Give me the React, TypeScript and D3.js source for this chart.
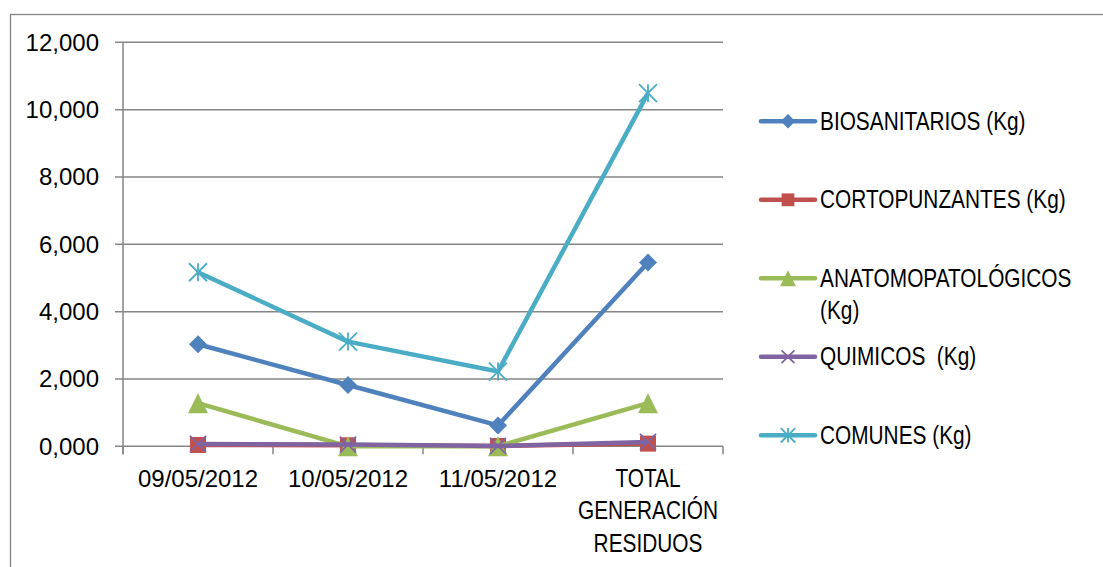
import React from "react";
import * as d3 from "d3";

const categories: string[][] = [["09/05/2012"], ["10/05/2012"], ["11/05/2012"], ["TOTAL", "GENERACIÓN", "RESIDUOS"]];
const yTicks: number[] = [0, 2, 4, 6, 8, 10, 12];
const yTickLabels: string[] = ["0,000", "2,000", "4,000", "6,000", "8,000", "10,000", "12,000"];

const seriesNames: string[][] = [["BIOSANITARIOS (Kg)"], ["CORTOPUNZANTES (Kg)"], ["ANATOMOPATOLÓGICOS", "(Kg)"], ["QUIMICOS  (Kg)"], ["COMUNES (Kg)"]];
const biosanitarios: number[] = [3.03, 1.82, 0.62, 5.46];
const cortopunzantes: number[] = [0.04, 0.03, 0.01, 0.08];
const anatomopatologicos: number[] = [1.28, 0, 0, 1.28];
const quimicos: number[] = [0.07, 0.05, 0.01, 0.13];
const comunes: number[] = [5.17, 3.11, 2.22, 10.49];
const seriesValues: number[][] = [biosanitarios, cortopunzantes, anatomopatologicos, quimicos, comunes];
const seriesColors: string[] = ["#4F81BD", "#C0504D", "#9BBB59", "#8064A2", "#4BACC6"];
const seriesMarkers: string[] = ["diamond", "square", "triangle", "x", "star"];

const W = 1103, H = 567;
const plotLeft = 123, plotRight = 723, plotTop = 42.3, plotBottom = 446.3;
const GRID = "#868686";
const FONT = "'Liberation Sans', Arial, sans-serif";
const NARROW = 0.82;

function NarrowText({ x, y, anchor = "start", size = 25.4, children }: { x: number; y: number; anchor?: string; size?: number; children: string }) {
  return (
    <text
      transform={`translate(${x},${y}) scale(${NARROW},1)`}
      textAnchor={anchor}
      fontFamily={FONT}
      fontSize={size}
      fill="#000"
      style={{ whiteSpace: "pre" }}
    >
      {children}
    </text>
  );
}

function Marker({ type, x, y, color, s = 1 }: { type: string; x: number; y: number; color: string; s?: number }) {
  if (type === "diamond") {
    const r = 9 * s;
    return <path d={`M${x},${y - r}L${x + r},${y}L${x},${y + r}L${x - r},${y}Z`} fill={color} />;
  }
  if (type === "square") {
    const r = 8 * s;
    return <rect x={x - r} y={y - r} width={2 * r} height={2 * r} fill={color} />;
  }
  if (type === "triangle") {
    const r = 10 * s;
    return <path d={`M${x},${y - r}L${x + r},${y + r}L${x - r},${y + r}Z`} fill={color} />;
  }
  if (type === "x") {
    const r = 8 * s;
    return <path d={`M${x - r},${y - r}L${x + r},${y + r}M${x + r},${y - r}L${x - r},${y + r}`} stroke={color} strokeWidth={1.8} fill="none" />;
  }
  const r = 9 * s;
  return (
    <path
      d={`M${x - r},${y - r}L${x + r},${y + r}M${x + r},${y - r}L${x - r},${y + r}M${x},${y - r}L${x},${y + r}`}
      stroke={color}
      strokeWidth={1.8}
      fill="none"
    />
  );
}

export default function App() {
  const x = d3.scaleBand<number>().domain(d3.range(categories.length)).range([plotLeft, plotRight]).padding(0);
  const cx = (i: number) => (x(i) as number) + x.bandwidth() / 2;
  const y = d3.scaleLinear().domain([0, 12]).range([plotBottom, plotTop]);
  const line = d3
    .line<number>()
    .x((_, i) => cx(i))
    .y((v) => y(v));

  const legendX = 761;
  const legendTop = 129.5;
  const legendStep = 78.5;
  const lineH = 32.4;

  return (
    <svg width={W} height={H} style={{ position: "absolute", left: 0, top: 0, background: "#fff" }}>
      <rect x={10.5} y={14.5} width={1100} height={560} fill="#fff" stroke={GRID} strokeWidth={1.3} />
      {/* gridlines & y labels */}
      {yTicks.map((t, i) => (
        <g key={t}>
          <line x1={plotLeft - 8} x2={plotRight} y1={y(t)} y2={y(t)} stroke={GRID} strokeWidth={1.5} />
          <text x={99} y={y(t) + 8.5} textAnchor="end" fontFamily={FONT} fontSize={24} fill="#000">
            {yTickLabels[i]}
          </text>
        </g>
      ))}
      {/* axes */}
      <line x1={plotLeft} x2={plotLeft} y1={plotTop} y2={plotBottom + 8} stroke={GRID} strokeWidth={1.5} />
      {d3.range(categories.length + 1).map((i) => {
        const xx = i < categories.length ? (x(i) as number) : plotRight;
        return <line key={i} x1={xx} x2={xx} y1={plotBottom} y2={plotBottom + 8} stroke={GRID} strokeWidth={1.5} />;
      })}
      {/* category labels */}
      {categories.map((lines, i) =>
        lines.map((l, j) =>
          /\d/.test(l) ? (
            <text key={`${i}-${j}`} x={cx(i)} y={486.7 + j * lineH} textAnchor="middle" fontFamily={FONT} fontSize={24} fill="#000">
              {l}
            </text>
          ) : (
            <NarrowText key={`${i}-${j}`} x={cx(i)} y={486.7 + j * lineH} anchor="middle">
              {l}
            </NarrowText>
          )
        )
      )}
      {/* series */}
      {seriesValues.map((vals, si) => (
        <g key={si}>
          <path d={line(vals) || ""} fill="none" stroke={seriesColors[si]} strokeWidth={4.5} strokeLinejoin="round" />
          {vals.map((v, i) => (
            <Marker key={i} type={seriesMarkers[si]} x={cx(i)} y={y(v)} color={seriesColors[si]} />
          ))}
        </g>
      ))}
      {/* legend */}
      {seriesNames.map((lines, si) => {
        const base = legendTop + si * legendStep;
        const ly = base - 8.2;
        return (
          <g key={si}>
            <line x1={legendX} x2={legendX + 54} y1={ly} y2={ly} stroke={seriesColors[si]} strokeWidth={4.5} strokeLinecap="round" />
            <Marker type={seriesMarkers[si]} x={legendX + 27} y={ly} color={seriesColors[si]} s={0.8} />
            {lines.map((l, j) => (
              <NarrowText key={j} x={legendX + 59} y={base + j * lineH}>
                {l}
              </NarrowText>
            ))}
          </g>
        );
      })}
    </svg>
  );
}
